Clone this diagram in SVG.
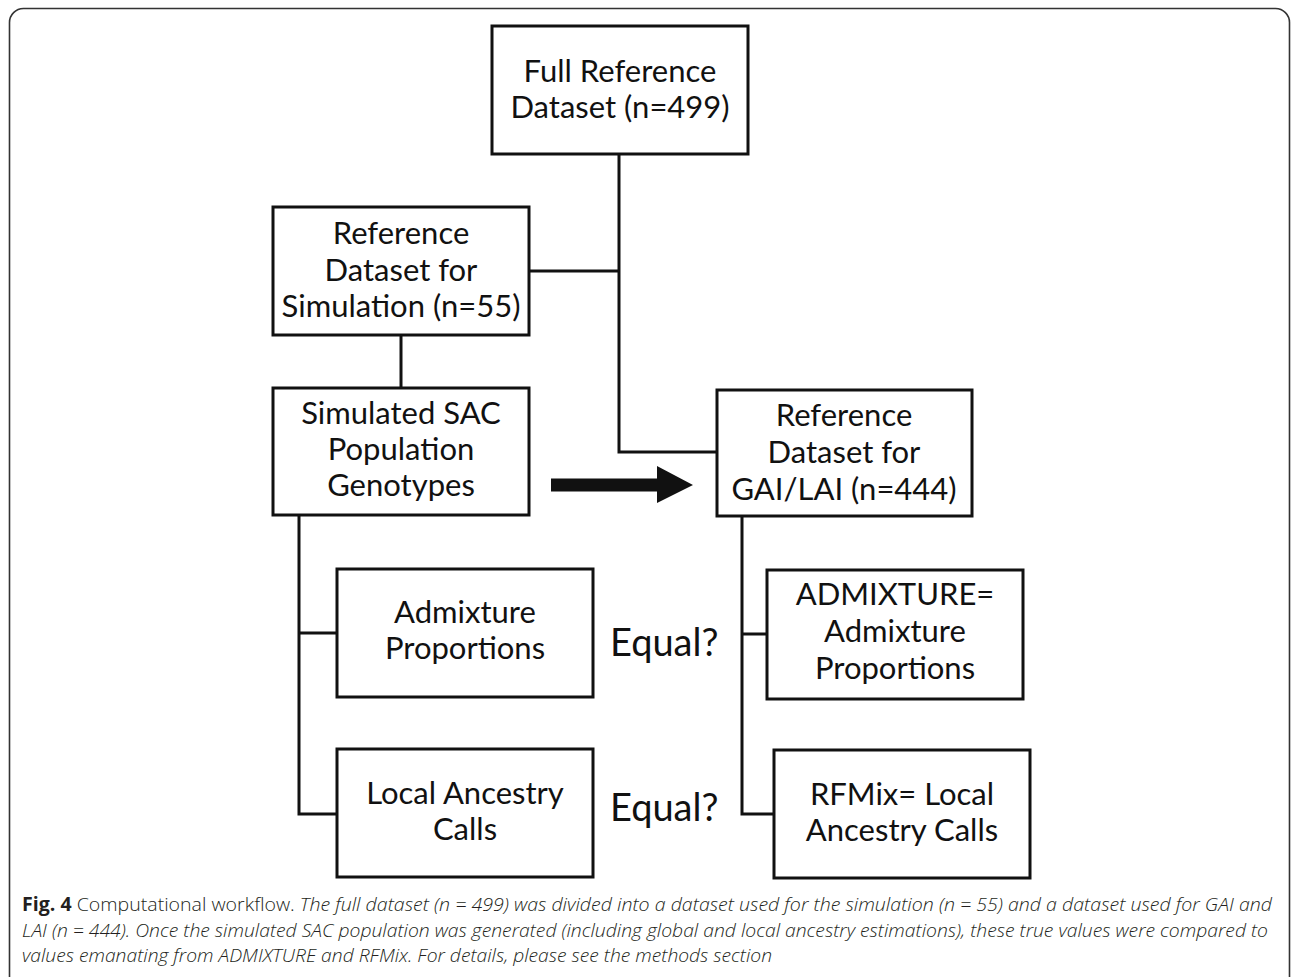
<svg xmlns="http://www.w3.org/2000/svg" width="1293" height="977" viewBox="0 0 1293 977">
<style>
.box{fill:#fff;stroke:#111;stroke-width:3}
.lbl{font-family:Lato,"Liberation Sans",sans-serif;font-size:31px;fill:#111;text-anchor:middle}
.eq{font-family:Lato,"Liberation Sans",sans-serif;font-size:38px;fill:#111}
.con{fill:none;stroke:#111;stroke-width:3}
.cap{font-family:"Open Sans","Liberation Sans",sans-serif;font-size:19px;fill:#231f20;font-weight:300}
</style>
<rect x="0" y="0" width="1293" height="977" fill="#fff"/>
<rect x="9.5" y="8.5" width="1280" height="985" rx="14" fill="none" stroke="#333" stroke-width="1.6"/>
<g id="connectors">
<path class="con" d="M619,154 V452 H717"/>
<path class="con" d="M529,271 H619"/>
<path class="con" d="M401,335 V388"/>
<path class="con" d="M299,515 V814 H337 M299,633 H337"/>
<path class="con" d="M742,516 V814 H774 M742,634 H767"/>
<path d="M551,478.5 H657 V466 L693,485 L657,503 V491.5 H551 Z" fill="#111"/>
</g>
<g id="n1"><rect class="box" x="492" y="26" width="256" height="128"/>
<text class="lbl" x="620" y="82">Full Reference</text><text class="lbl" x="620" y="118">Dataset (n=499)</text></g>
<g id="n2"><rect class="box" x="273" y="207" width="256" height="128"/>
<text class="lbl" x="401" y="244">Reference</text><text class="lbl" x="401" y="281">Dataset for</text><text class="lbl" x="401" y="317">Simulation (n=55)</text></g>
<g id="n3"><rect class="box" x="273" y="388" width="256" height="127"/>
<text class="lbl" x="401" y="424">Simulated SAC</text><text class="lbl" x="401" y="460">Population</text><text class="lbl" x="401" y="496">Genotypes</text></g>
<g id="n4"><rect class="box" x="717" y="390" width="255" height="126"/>
<text class="lbl" x="844" y="426">Reference</text><text class="lbl" x="844" y="463">Dataset for</text><text class="lbl" x="844" y="500">GAI/LAI (n=444)</text></g>
<g id="n5"><rect class="box" x="337" y="569" width="256" height="128"/>
<text class="lbl" x="465" y="623">Admixture</text><text class="lbl" x="465" y="659">Proportions</text></g>
<g id="n6"><rect class="box" x="337" y="749" width="256" height="128"/>
<text class="lbl" x="465" y="804">Local Ancestry</text><text class="lbl" x="465" y="840">Calls</text></g>
<g id="n7"><rect class="box" x="767" y="570" width="256" height="129"/>
<text class="lbl" x="895" y="605">ADMIXTURE=</text><text class="lbl" x="895" y="642">Admixture</text><text class="lbl" x="895" y="679">Proportions</text></g>
<g id="n8"><rect class="box" x="774" y="750" width="256" height="128"/>
<text class="lbl" x="902" y="805">RFMix= Local</text><text class="lbl" x="902" y="841">Ancestry Calls</text></g>
<g id="eq1"><text class="eq" x="610" y="656">Equal?</text></g>
<g id="eq2"><text class="eq" x="610" y="821">Equal?</text></g>
<g id="caption">
<text class="cap" x="22" y="911" textLength="1250" lengthAdjust="spacingAndGlyphs"><tspan font-weight="700">Fig. 4</tspan> Computational workflow. <tspan font-style="italic">The full dataset (n = 499) was divided into a dataset used for the simulation (n = 55) and a dataset used for GAI and</tspan></text>
<text class="cap" x="22" y="937" textLength="1246" lengthAdjust="spacingAndGlyphs" font-style="italic">LAI (n = 444). Once the simulated SAC population was generated (including global and local ancestry estimations), these true values were compared to</text>
<text class="cap" x="22" y="962" textLength="750" lengthAdjust="spacingAndGlyphs" font-style="italic">values emanating from ADMIXTURE and RFMix. For details, please see the methods section</text>
</g>
</svg>
